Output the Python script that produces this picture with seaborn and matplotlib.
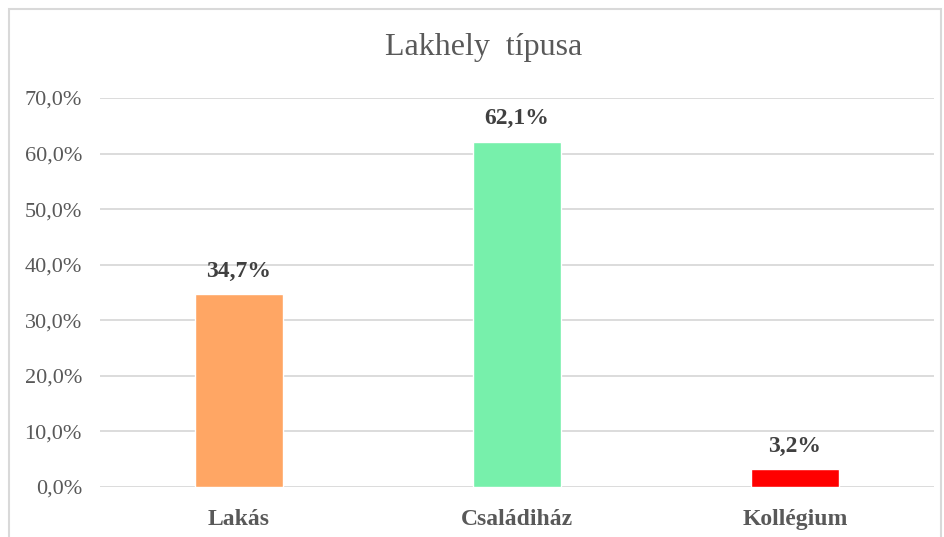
import matplotlib.pyplot as plt
import matplotlib.patches as mpatches
import matplotlib.ticker as mticker
import pandas as pd
import seaborn as sns

# Lakhely típusa - bar chart
categories = ["Lakás", "Családiház", "Kollégium"]
values = [34.7, 62.1, 3.2]
colors = ["#FFA664", "#77F0AB", "#FF0000"]
y_ticks = [0, 10, 20, 30, 40, 50, 60, 70]

df = pd.DataFrame({"cat": categories, "val": values})

sns.set_style("white")
plt.rcParams['font.family'] = ['Liberation Serif', 'DejaVu Serif']

fig = plt.figure(figsize=(9.45, 5.37), dpi=100)
ax = fig.add_axes([100 / 945, 50 / 537, 834 / 945, 389 / 537])

sns.barplot(data=df, x="cat", y="val", hue="cat", palette=colors, width=0.313,
            legend=False, ax=ax, zorder=3, saturation=1)

ax.set_ylim(0, 70)
ax.set_xlim(-0.5, 2.5)
ax.set_yticks(y_ticks)
ax.yaxis.set_major_formatter(mticker.FuncFormatter(lambda v, p: f"{v:.1f}%".replace(".", ",")))
ax.grid(axis="y", color="#D9D9D9", linewidth=1.3, zorder=0)
ax.set_axisbelow(True)
for s in ax.spines.values():
    s.set_visible(False)
ax.set_xlabel("")
ax.set_ylabel("")
ax.tick_params(axis="y", length=0, pad=13, labelsize=16, labelcolor="#595959")
ax.tick_params(axis="x", length=0, pad=15.5, labelsize=17, labelcolor="#595959")
for lbl in ax.get_xticklabels():
    lbl.set_fontweight("bold")

for i, v in enumerate(values):
    ax.annotate(f"{v:.1f}%".replace(".", ","), (i, v), xytext=(0, 9), textcoords="offset points",
                ha="center", va="bottom", fontsize=17, fontweight="bold", color="#404040")

fig.text(484 / 945, 1 - 48 / 537, "Lakhely  típusa", ha="center", va="center",
         fontsize=23, color="#595959")

# chart border
fig.patches.append(mpatches.Rectangle((9 / 945, -0.05), 932 / 945, 1.05 - 9 / 537,
                                      transform=fig.transFigure, fill=False,
                                      edgecolor="#D9D9D9", linewidth=1.5))

plt.savefig("out.png", dpi=100)
plt.close()
